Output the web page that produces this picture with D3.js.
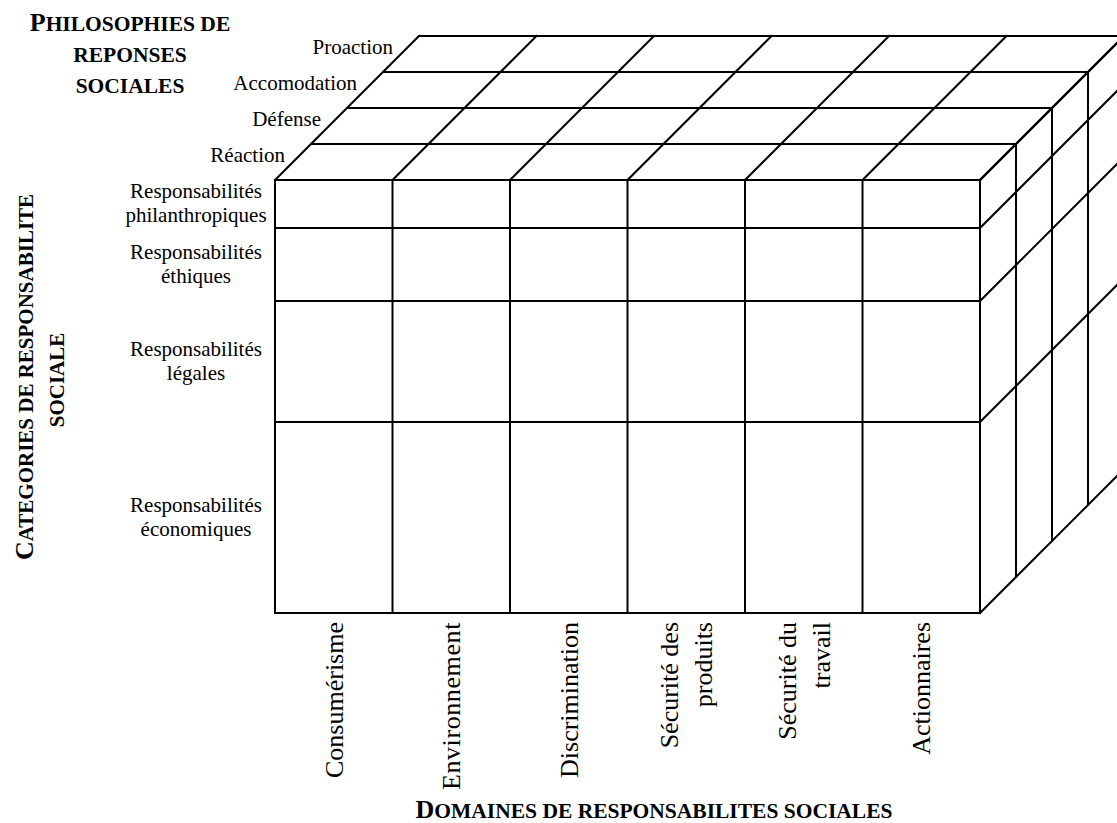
<!DOCTYPE html>
<html><head><meta charset="utf-8">
<script src="https://cdn.jsdelivr.net/npm/d3@7"></script>
<style>
body{margin:0;background:#fff}
svg{display:block}
text{font-family:"Liberation Serif","Times New Roman",Times,serif;fill:#000}
</style>
</head><body>
<svg id="chart" width="1117" height="823"></svg>
<script>
// ---- data ----
const domains = [["Consumérisme"],["Environnement"],["Discrimination"],["Sécurité des","produits"],["Sécurité du","travail"],["Actionnaires"]];
const categories = [["Responsabilités","philanthropiques"],["Responsabilités","éthiques"],["Responsabilités","légales"],["Responsabilités","économiques"]];
const philosophies = ["Réaction","Défense","Accomodation","Proaction"];
const titlePhilo = ["Philosophies de","reponses","sociales"];
const titleCat = ["Categories de responsabilite","sociale"];
const titleDom = ["Domaines de responsabilites sociales"];

// ---- layout ----
const rowShare = [48,73,121,191];
const svg = d3.select("#chart");
const x = d3.scaleBand().domain(d3.range(domains.length)).range([275,980]);
const cum = [0, ...d3.cumsum(rowShare)];
const y = d3.scaleLinear().domain([0, d3.sum(rowShare)]).range([180,613]);
const depth = d3.scaleLinear().domain([0, philosophies.length]).range([0,144]);

const colB = d3.range(domains.length+1).map(i => x.range()[0] + i*x.step());
const rowB = cum.map(v => y(v));
const depB = d3.range(philosophies.length+1).map(i => depth(i));
const X0 = colB[0], X1 = colB[colB.length-1], Y0 = rowB[0], Y1 = rowB[rowB.length-1];
const D = depth(philosophies.length);

const segs = [];
// front face
colB.forEach(cx => segs.push([cx, Y0, cx, Y1]));
rowB.forEach(ry => segs.push([X0, ry, X1, ry]));
// top face
depB.forEach(d => segs.push([X0 + d, Y0 - d, X1 + d, Y0 - d]));
colB.forEach(cx => segs.push([cx, Y0, cx + D, Y0 - D]));
// right face
depB.forEach(d => segs.push([X1 + d, Y0 - d, X1 + d, Y1 - d]));
rowB.forEach(ry => segs.push([X1, ry, X1 + D, ry - D]));

svg.append("g").selectAll("line").data(segs).join("line")
  .attr("x1", s => s[0]).attr("y1", s => s[1])
  .attr("x2", s => s[2]).attr("y2", s => s[3])
  .attr("stroke", "#000").attr("stroke-width", 2).attr("stroke-linecap", "square");

// depth labels
svg.append("g").selectAll("text").data(philosophies).join("text")
  .attr("x", (d,i) => X0 + depth(i+0.5) - 8)
  .attr("y", (d,i) => Y0 - depth(i+0.5))
  .attr("text-anchor", "end").attr("font-size", 21).text(d => d);

// category labels
const cg = svg.append("g").selectAll("text").data(categories).join("text")
  .attr("text-anchor", "middle").attr("font-size", 21);
cg.each(function(d,i){
  const yc = (rowB[i] + rowB[i+1]) / 2;
  d3.select(this).selectAll("tspan").data(d).join("tspan")
    .attr("x", 196).attr("y", (t,j) => yc - 6 + j*24).text(t => t);
});

// domain labels (rotated)
domains.forEach((lines, i) => {
  const cx = x(i) + x.bandwidth()/2;
  const n = lines.length;
  lines.forEach((t, j) => {
    const bx = cx + 9 + (j - (n-1)/2) * 34;
    svg.append("text")
      .attr("transform", `translate(${bx},622) rotate(-90)`)
      .attr("text-anchor", "end").attr("font-size", 26)
      .attr("letter-spacing", t === "Environnement" ? 0.6 : 0)
      .text(t);
  });
});

// small caps helper
function smallCaps(sel, str, big, small){
  let runs = [];
  for (const ch of str){
    const isBig = ch !== ch.toLowerCase();
    const size = isBig ? big : small;
    if (runs.length && runs[runs.length-1].size === size) runs[runs.length-1].t += ch.toUpperCase();
    else runs.push({size, t: ch.toUpperCase()});
  }
  sel.selectAll("tspan").data(runs).join("tspan")
    .attr("font-size", r => r.size).text(r => r.t);
}

// top-left title
titlePhilo.forEach((t, j) => {
  const el = svg.append("text").attr("x", 130).attr("y", 31 + j*31)
    .attr("text-anchor", "middle").attr("font-weight", "bold");
  smallCaps(el, t, 26, 21.5);
});
// vertical title
titleCat.forEach((t, j) => {
  const el = svg.append("text")
    .attr("transform", `translate(${33 + j*31},${j === 0 ? 377 : 380}) rotate(-90)`)
    .attr("text-anchor", "middle").attr("font-weight", "bold");
  smallCaps(el, t, 26, 21);
});
// bottom title
titleDom.forEach((t, j) => {
  const el = svg.append("text").attr("x", 654).attr("y", 818 + j*31)
    .attr("text-anchor", "middle").attr("font-weight", "bold");
  smallCaps(el, t, 26, 21.5);
});
</script>
</body></html>
